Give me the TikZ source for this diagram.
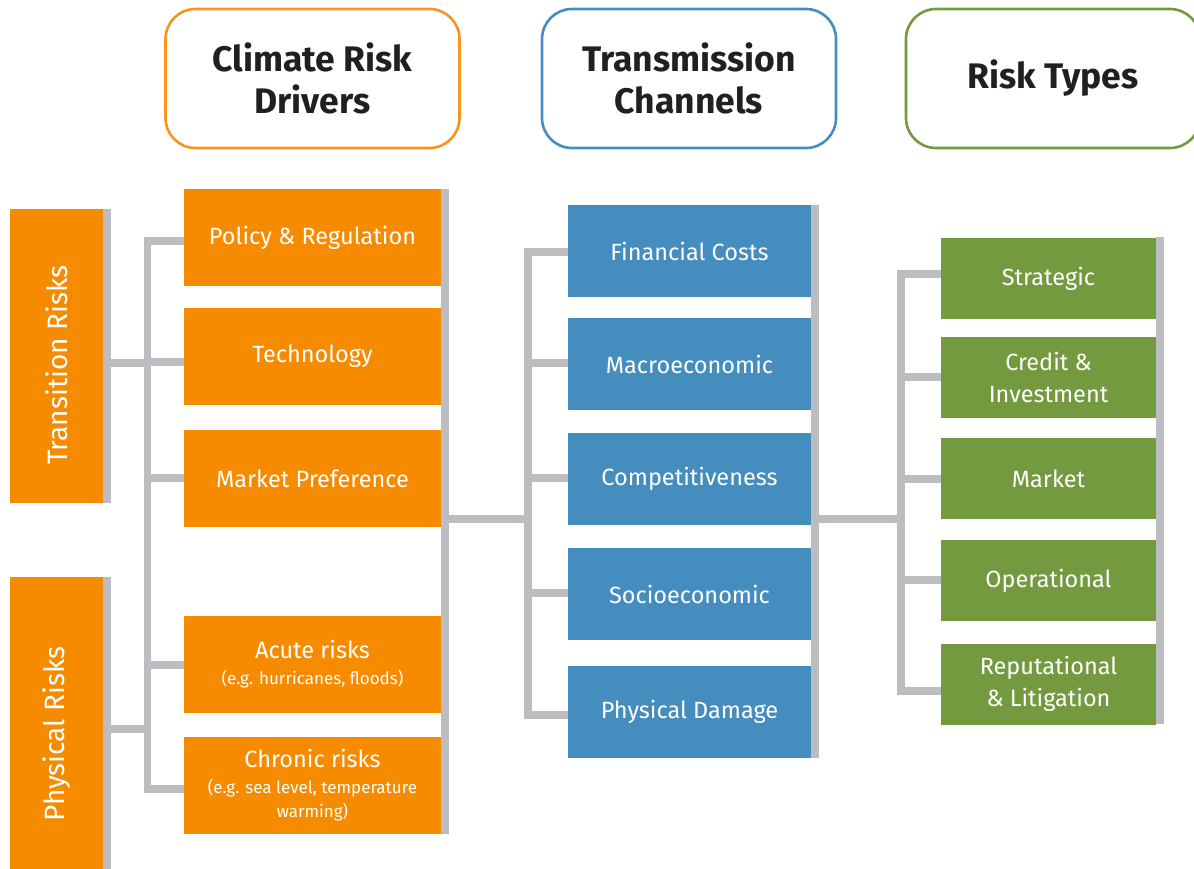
\documentclass[tikz,border=0pt]{standalone}
\usepackage{fontspec}
\setmainfont{Fira Sans}
\definecolor{corange}{RGB}{247,139,0}
\definecolor{corangeline}{RGB}{247,148,29}
\definecolor{cblue}{RGB}{69,141,190}
\definecolor{cgreen}{RGB}{115,154,62}
\definecolor{cgray}{RGB}{188,189,192}
\definecolor{cdark}{RGB}{35,31,32}
\newcommand\subtxt{\fontsize{17}{24}\selectfont}
\begin{document}
\begin{tikzpicture}[x=1pt,y=-1pt,
  box/.style={rectangle, inner sep=0pt, outer sep=0pt, text=white, align=center,
    font=\fontsize{23.5}{32}\selectfont},
  obox/.style={box, fill=corange, minimum width=257pt, minimum height=97pt},
  bbox/.style={box, fill=cblue, minimum width=243pt, minimum height=92pt},
  gbox/.style={box, fill=cgreen, minimum width=215pt, minimum height=81pt},
  sidebox/.style={box, fill=corange, minimum width=93pt},
  bar/.style={rectangle, inner sep=0pt, outer sep=0pt, fill=cgray, minimum width=8pt},
  hdr/.style={rectangle, rounded corners=30pt, line width=2.6pt, fill=white,
    minimum width=294pt, minimum height=139pt, inner sep=0pt, align=center,
    text=cdark, font=\fontsize{35.5}{42}\selectfont\bfseries},
  conn/.style={draw=cgray, line width=7.5pt},
  vlabel/.style={text=white, rotate=90, font=\fontsize{28}{32}\selectfont}
]
\useasboundingbox (0,0) rectangle (1194,869);
\clip (0,0) rectangle (1194,869);

% headers
\node[hdr, draw=corangeline] (h1) at (312.5,78.5) {Climate Risk\\Drivers};
\node[hdr, draw=cblue] (h2) at (689,78.5) {Transmission\\Channels};
\node[hdr, draw=cgreen] (h3) at (1053,78.5) {Risk Types};

% side boxes
\node[sidebox, minimum height=294pt] (tr) at (56.5,356) {};
\node[vlabel] (trl) at (56.5,365) {Transition Risks};
\node[bar, minimum height=294pt] (trbar) at (107,356) {};
\node[sidebox, minimum height=310pt] (ph) at (56.5,732) {};
\node[vlabel] (phl) at (56.5,734) {Physical Risks};
\node[bar, minimum height=310pt] (phbar) at (107,732) {};

% drivers
\node[obox] (pol) at (312.5,237.5) {Policy \& Regulation};
\node[obox] (tec) at (312.5,356.5) {Technology};
\node[obox] (mkp) at (312.5,478.5) {Market Preference};
\node[obox] (acu) at (312.5,664.5) {Acute risks\\[-6pt]{\subtxt (e.g. hurricanes, floods)}};
\node[obox] (chr) at (312.5,785.5) {Chronic risks\\[-6pt]{\subtxt (e.g. sea level, temperature}\\[-8pt]{\subtxt warming)}};
\node[bar, minimum height=645pt] (dbar) at (445,511.5) {};

% channels
\node[bbox] (fin) at (689.5,251) {Financial Costs};
\node[bbox] (mac) at (689.5,364) {Macroeconomic};
\node[bbox] (com) at (689.5,479) {Competitiveness};
\node[bbox] (soc) at (689.5,594) {Socioeconomic};
\node[bbox] (phd) at (689.5,712) {Physical Damage};
\node[bar, minimum height=553pt] (cbar) at (815,481.5) {};

% risk types
\node[gbox] (str) at (1048.5,278.5) {Strategic};
\node[gbox] (cre) at (1048.5,377.5) {Credit \&\\Investment};
\node[gbox] (mkt) at (1048.5,478.5) {Market};
\node[gbox] (ope) at (1048.5,580.5) {Operational};
\node[gbox] (rep) at (1048.5,684) {Reputational\\\& Litigation};
\node[bar, minimum height=487pt] (rbar) at (1160,480.5) {};

% left connectors
\coordinate (tj) at (147.5,363);
\coordinate (pj) at (147.5,729);
\draw[conn] (trbar.east |- tj) -- (tj);
\draw[conn] (phbar.east |- pj) -- (pj);
\coordinate (dvT) at (147.5,237);
\coordinate (dvB) at (147.5,793);
\draw[conn] (dvT) -- (dvB);
\coordinate (d1) at (147.5,241);
\coordinate (d2) at (147.5,362);
\coordinate (d3) at (147.5,478);
\coordinate (d4) at (147.5,665);
\coordinate (d5) at (147.5,789);
\draw[conn] (d1) -- (d1 -| pol.west);
\draw[conn] (d2) -- (d2 -| tec.west);
\draw[conn] (d3) -- (d3 -| mkp.west);
\draw[conn] (d4) -- (d4 -| acu.west);
\draw[conn] (d5) -- (d5 -| chr.west);

% middle connectors
\coordinate (cj) at (528,519);
\draw[conn] (dbar.east |- cj) -- (cj);
\coordinate (cvT) at (528,248);
\coordinate (cvB) at (528,719);
\draw[conn] (cvT) -- (cvB);
\coordinate (c1) at (528,252);
\coordinate (c2) at (528,363);
\coordinate (c3) at (528,478);
\coordinate (c4) at (528,593);
\coordinate (c5) at (528,715);
\draw[conn] (c1) -- (c1 -| fin.west);
\draw[conn] (c2) -- (c2 -| mac.west);
\draw[conn] (c3) -- (c3 -| com.west);
\draw[conn] (c4) -- (c4 -| soc.west);
\draw[conn] (c5) -- (c5 -| phd.west);

% right connectors
\coordinate (rj) at (901,519);
\draw[conn] (cbar.east |- rj) -- (rj);
\coordinate (rvT) at (901,270);
\coordinate (rvB) at (901,695);
\draw[conn] (rvT) -- (rvB);
\coordinate (r1) at (901,274);
\coordinate (r2) at (901,377);
\coordinate (r3) at (901,479);
\coordinate (r4) at (901,580);
\coordinate (r5) at (901,691);
\draw[conn] (r1) -- (r1 -| str.west);
\draw[conn] (r2) -- (r2 -| cre.west);
\draw[conn] (r3) -- (r3 -| mkt.west);
\draw[conn] (r4) -- (r4 -| ope.west);
\draw[conn] (r5) -- (r5 -| rep.west);
\end{tikzpicture}
\end{document}
